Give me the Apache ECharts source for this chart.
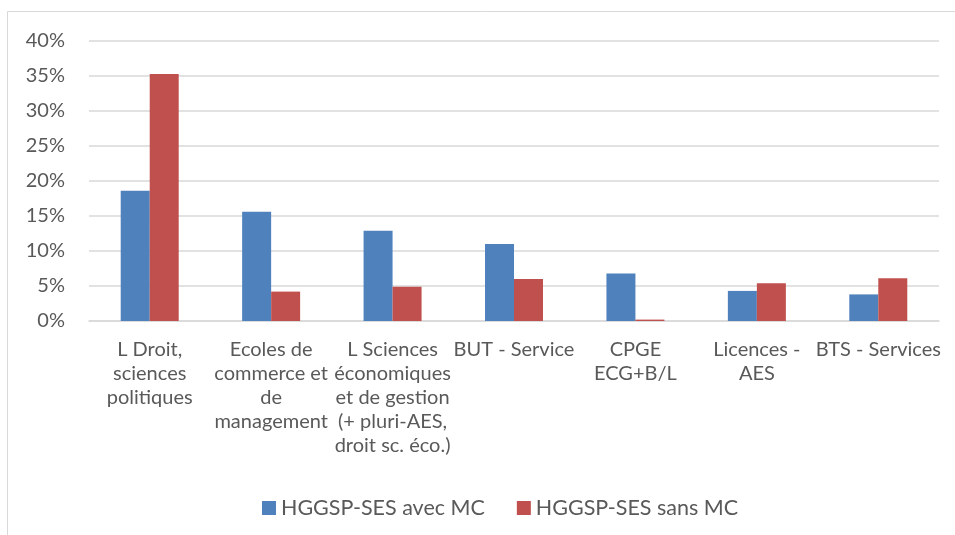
<!DOCTYPE html>
<html>
<head>
<meta charset="utf-8">
<script src="https://cdn.jsdelivr.net/npm/echarts@6/dist/echarts.min.js"></script>
<style>html,body{margin:0;padding:0;background:#fff}#c{width:955px;height:535px}</style>
</head>
<body>
<div id="c"></div>
<script>
const categories = [
  "L Droit,\nsciences\npolitiques",
  "Ecoles de\ncommerce et\nde\nmanagement",
  "L Sciences\néconomiques\net de gestion\n(+ pluri-AES,\ndroit sc. éco.)",
  "BUT - Service",
  "CPGE\nECG+B/L",
  "Licences -\nAES",
  "BTS - Services"
];
const seriesNames = ["HGGSP-SES avec MC", "HGGSP-SES sans MC"];
const avecMC = [18.6, 15.6, 12.9, 11.0, 6.8, 4.3, 3.8];
const sansMC = [35.3, 4.2, 4.9, 6.0, 0.2, 5.4, 6.1];
const yTicks = { min: 0, max: 40, interval: 5 };

const font = "Lato, 'Open Sans', sans-serif";
const chart = echarts.init(document.getElementById('c'), null, { renderer: 'canvas' });
chart.setOption({
  animation: false,
  backgroundColor: '#fff',
  textStyle: { fontFamily: font },
  graphic: [{
    type: 'rect', silent: true,
    shape: { x: 7.5, y: 11.5, width: 960, height: 540 },
    style: { fill: 'none', stroke: '#D9D9D9', lineWidth: 1 }
  }],
  grid: { left: 89, right: 16, top: 41, bottom: 214, containLabel: false },
  legend: {
    left: 257, top: 492,
    itemWidth: 14, itemHeight: 14, itemGap: 32,
    icon: 'rect',
    textStyle: { fontFamily: font, fontSize: 21.5, color: '#595959' },
    data: seriesNames
  },
  xAxis: {
    type: 'category',
    data: categories,
    axisLine: { show: true, lineStyle: { color: '#D9D9D9', width: 1.5 } },
    axisTick: { show: false },
    axisLabel: {
      interval: 0, margin: 17,
      fontFamily: font, fontSize: 20, color: '#595959', lineHeight: 24, align: 'center'
    }
  },
  yAxis: {
    type: 'value',
    min: yTicks.min, max: yTicks.max, interval: yTicks.interval,
    axisLine: { show: false },
    axisTick: { show: false },
    splitLine: { lineStyle: { color: '#D9D9D9', width: 1.5 } },
    axisLabel: { formatter: '{value}%', fontFamily: font, fontSize: 20, color: '#595959', margin: 24 }
  },
  series: [
    { name: seriesNames[0], type: 'bar', data: avecMC, barWidth: 29, barGap: '0%',
      itemStyle: { color: '#4F81BD' } },
    { name: seriesNames[1], type: 'bar', data: sansMC, barWidth: 29, barGap: '0%',
      itemStyle: { color: '#C0504D' } }
  ]
});
</script>
</body>
</html>
